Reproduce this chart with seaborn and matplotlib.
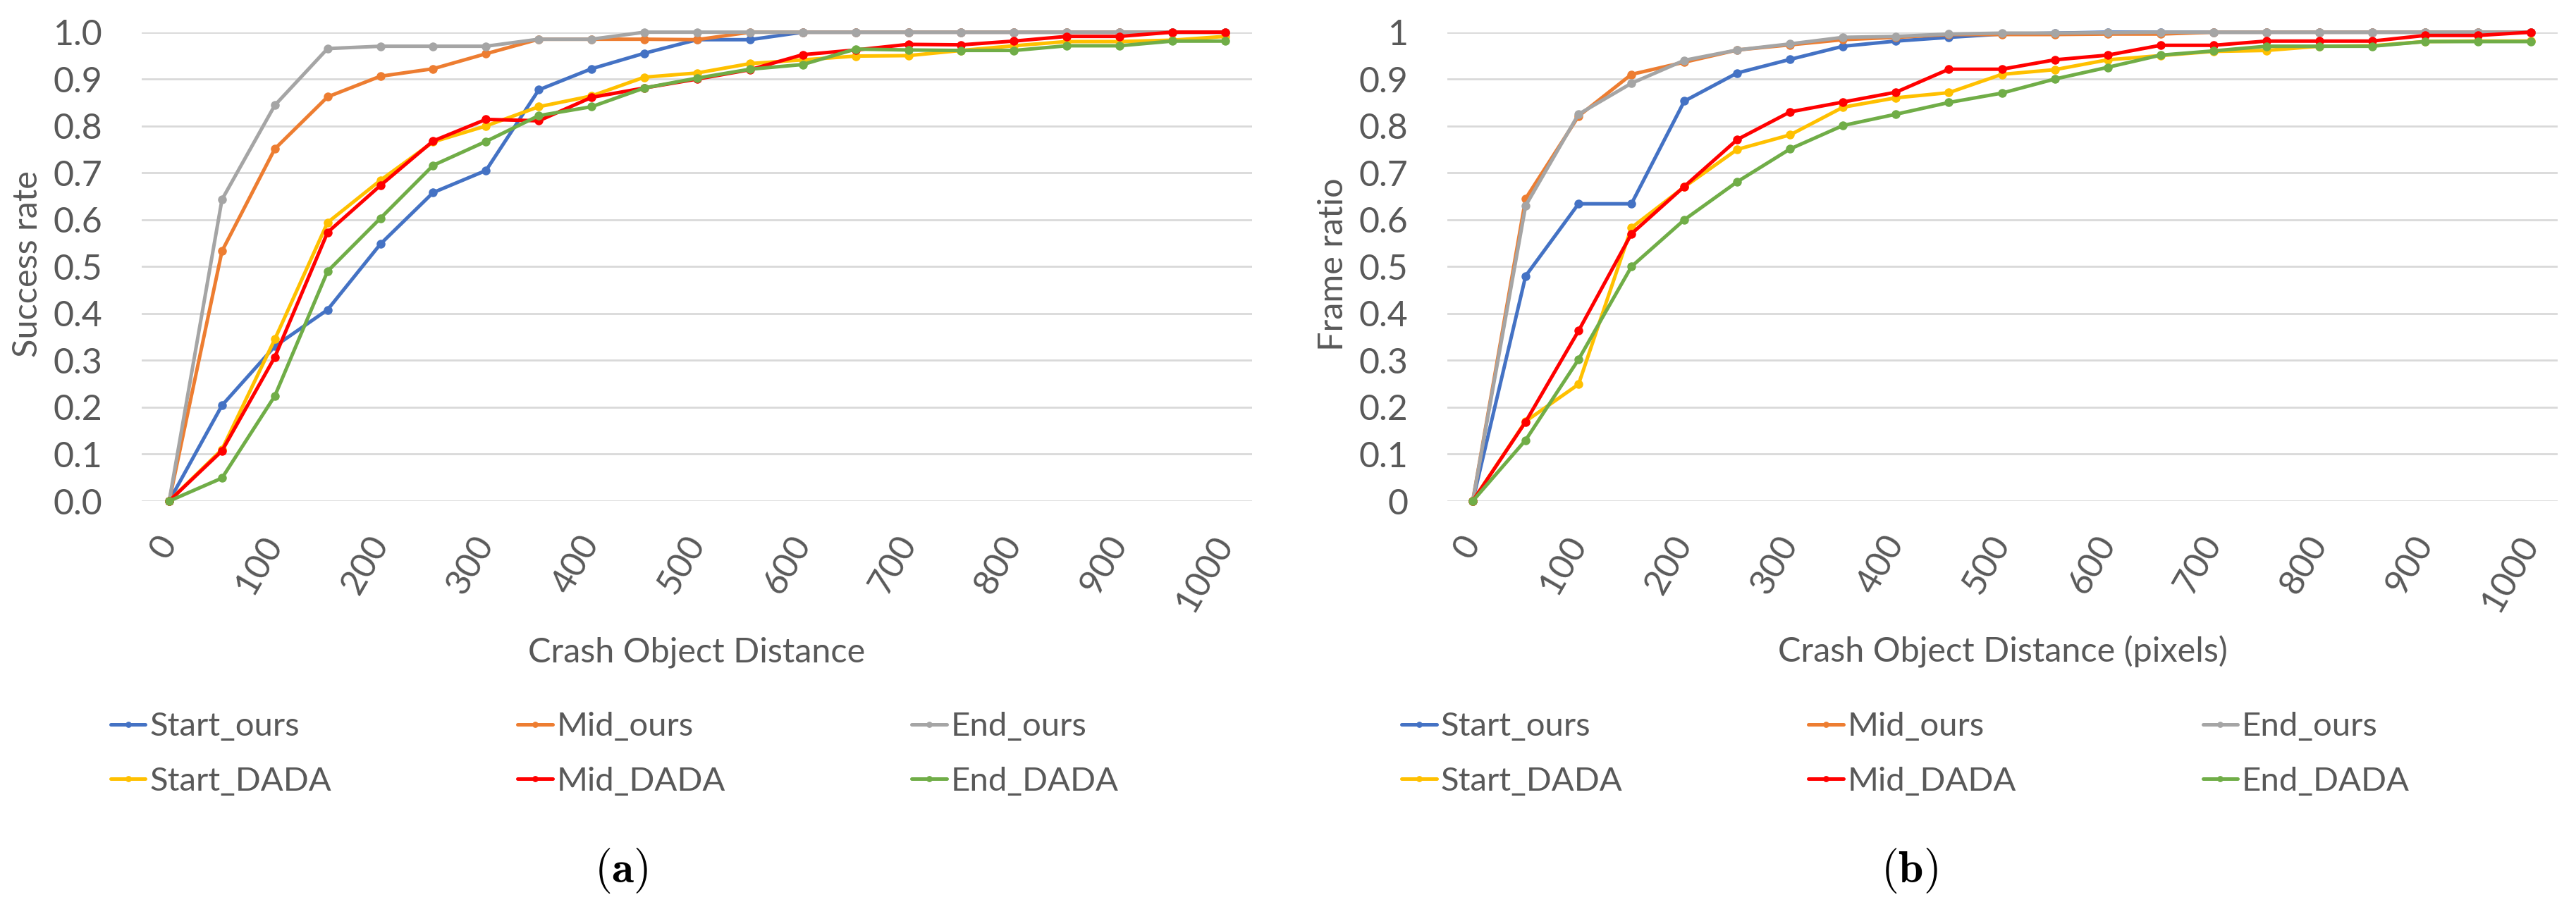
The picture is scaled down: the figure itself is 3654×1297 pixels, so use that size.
import matplotlib
matplotlib.use("Agg")
import matplotlib.pyplot as plt
import pandas as pd
import seaborn as sns

# ---------------- data ----------------
distance = list(range(0, 1001, 50))
xtick_values = list(range(0, 1001, 100))
series_names = ["Start_ours", "Mid_ours", "End_ours", "Start_DADA", "Mid_DADA", "End_DADA"]
series_colors = ["#4472C4", "#ED7D31", "#A5A5A5", "#FFC000", "#FF0000", "#70AD47"]

# (a) Success rate
a_start_ours = [0, 0.204, 0.33, 0.408, 0.548, 0.658, 0.705, 0.877, 0.922, 0.955, 0.984,
                0.984, 1.0, 1.0, 1.0, 1.0, 1.0, 1.0, 1.0, 1.0, 1.0]
a_mid_ours = [0, 0.533, 0.751, 0.862, 0.906, 0.922, 0.954, 0.985, 0.985, 0.985, 0.984,
              1.0, 1.0, 1.0, 1.0, 1.0, 1.0, 1.0, 1.0, 1.0, 1.0]
a_end_ours = [0, 0.643, 0.844, 0.965, 0.97, 0.97, 0.97, 0.985, 0.985, 1.0, 1.0,
              1.0, 1.0, 1.0, 1.0, 1.0, 1.0, 1.0, 1.0, 1.0, 1.0]
a_start_dada = [0, 0.11, 0.345, 0.594, 0.684, 0.766, 0.80, 0.841, 0.864, 0.904, 0.913,
                0.933, 0.941, 0.949, 0.95, 0.961, 0.971, 0.98, 0.98, 0.983, 0.991]
a_mid_dada = [0, 0.107, 0.307, 0.573, 0.673, 0.768, 0.814, 0.811, 0.861, 0.881, 0.90,
              0.92, 0.952, 0.962, 0.974, 0.973, 0.981, 0.991, 0.991, 1.0, 1.0]
a_end_dada = [0, 0.049, 0.224, 0.49, 0.603, 0.716, 0.767, 0.822, 0.841, 0.881, 0.902,
              0.921, 0.931, 0.964, 0.962, 0.961, 0.961, 0.971, 0.971, 0.981, 0.981]

# (b) Frame ratio
b_start_ours = [0, 0.48, 0.634, 0.634, 0.853, 0.913, 0.942, 0.970, 0.981, 0.989, 0.996,
                0.998, 1.0, 1.0, 1.0, 1.0, 1.0, 1.0, 1.0, 1.0, 1.0]
b_mid_ours = [0, 0.645, 0.821, 0.910, 0.936, 0.962, 0.973, 0.984, 0.989, 0.995, 0.995,
              0.995, 0.996, 0.996, 1.0, 1.0, 1.0, 1.0, 1.0, 1.0, 1.0]
b_end_ours = [0, 0.63, 0.825, 0.891, 0.940, 0.962, 0.975, 0.989, 0.991, 0.996, 0.998,
              0.998, 0.999, 1.0, 1.0, 1.0, 1.0, 1.0, 1.0, 1.0, 1.0]
b_start_dada = [0, 0.17, 0.249, 0.583, 0.67, 0.75, 0.781, 0.840, 0.860, 0.871, 0.910,
                0.92, 0.941, 0.95, 0.959, 0.961, 0.970, 0.971, 0.980, 0.981, 0.981]
b_mid_dada = [0, 0.169, 0.363, 0.57, 0.671, 0.771, 0.83, 0.851, 0.872, 0.921, 0.921,
              0.941, 0.951, 0.972, 0.972, 0.981, 0.981, 0.981, 0.993, 0.993, 1.0]
b_end_dada = [0, 0.13, 0.302, 0.50, 0.60, 0.681, 0.751, 0.801, 0.825, 0.85, 0.87,
              0.90, 0.925, 0.951, 0.96, 0.97, 0.97, 0.97, 0.98, 0.98, 0.98]

panel_a = [a_start_ours, a_mid_ours, a_end_ours, a_start_dada, a_mid_dada, a_end_dada]
panel_b = [b_start_ours, b_mid_ours, b_end_ours, b_start_dada, b_mid_dada, b_end_dada]

a_ytick_labels = ["0.0", "0.1", "0.2", "0.3", "0.4", "0.5", "0.6", "0.7", "0.8", "0.9", "1.0"]
b_ytick_labels = ["0", "0.1", "0.2", "0.3", "0.4", "0.5", "0.6", "0.7", "0.8", "0.9", "1"]
ytick_values = [i / 10 for i in range(11)]


def long_frame(series_list):
    rows = []
    for name, vals in zip(series_names, series_list):
        for d, v in zip(distance, vals):
            rows.append({"distance": d, "value": v, "series": name})
    return pd.DataFrame(rows)


# ---------------- style ----------------
sns.set_theme(style="white")
plt.rcParams["font.family"] = ["Lato", "DejaVu Sans"]
TXT = "#595959"
GRID = "#D9D9D9"
FS = 34

fig = plt.figure(figsize=(36.55, 12.97), dpi=100)
ax_a = fig.add_axes([0.0550, 0.4518, 0.4309, 0.5130])
ax_b = fig.add_axes([0.5617, 0.4518, 0.4309, 0.5130])

panels = [
    (ax_a, panel_a, a_ytick_labels, "Success rate", "Crash Object Distance",
     (-26, 1025.4), 0.2385, r"$\mathbf{(a)}$", 0.241),
    (ax_b, panel_b, b_ytick_labels, "Frame ratio", "Crash Object Distance (pixels)",
     (-24, 1025.3), 0.7395, r"$\mathbf{(b)}$", 0.741),
]

for ax, data, ylabels, ylab, xlab, xlim, legx, tag, tagx in panels:
    df = long_frame(data)
    sns.lineplot(data=df, x="distance", y="value", hue="series",
                 hue_order=series_names, palette=series_colors,
                 marker="o", markersize=9, markeredgewidth=0,
                 linewidth=3.6, legend=False, errorbar=None,
                 clip_on=False, ax=ax)
    ax.set_xlim(*xlim)
    ax.set_ylim(0, 1)
    ax.set_xticks(xtick_values)
    ax.set_xticklabels([str(v) for v in xtick_values], rotation=60,
                       ha="right", va="center", rotation_mode="anchor")
    ax.set_yticks(ytick_values)
    ax.set_yticklabels(ylabels)
    ax.tick_params(axis="both", length=0, labelsize=FS + 2, labelcolor=TXT)
    ax.tick_params(axis="x", pad=38)
    ax.tick_params(axis="y", pad=40)
    ax.grid(axis="y", color=GRID, linewidth=2.0)
    ax.grid(axis="x", visible=False)
    ax.set_axisbelow(True)
    for sp in ax.spines.values():
        sp.set_visible(False)

    ax.set_xlabel(xlab, fontsize=FS + 1, color=TXT)
    ax.xaxis.label.set_va("center")
    ax.xaxis.set_label_coords(0.5, -0.322)
    ax.set_ylabel(ylab, fontsize=FS + 1, color=TXT)
    ax.yaxis.label.set_va("center")
    ax.yaxis.set_label_coords(-0.103, 0.505)

    lines = ax.get_lines()[:6]
    order = [0, 3, 1, 4, 2, 5]
    ax.legend([lines[i] for i in order], [series_names[i] for i in order],
              ncol=3, loc="center", bbox_to_anchor=(legx, 0.175),
              bbox_transform=fig.transFigure, frameon=False, fontsize=FS,
              labelcolor=TXT, handlelength=1.05, handletextpad=0.12,
              columnspacing=5.6, labelspacing=0.75, markerscale=0.7)

    fig.text(tagx, 1 - 1235 / 1297, tag, fontsize=46, ha="center", va="center",
             math_fontfamily="cm", color="black")

fig.savefig("out.png", dpi=100, facecolor="white")
